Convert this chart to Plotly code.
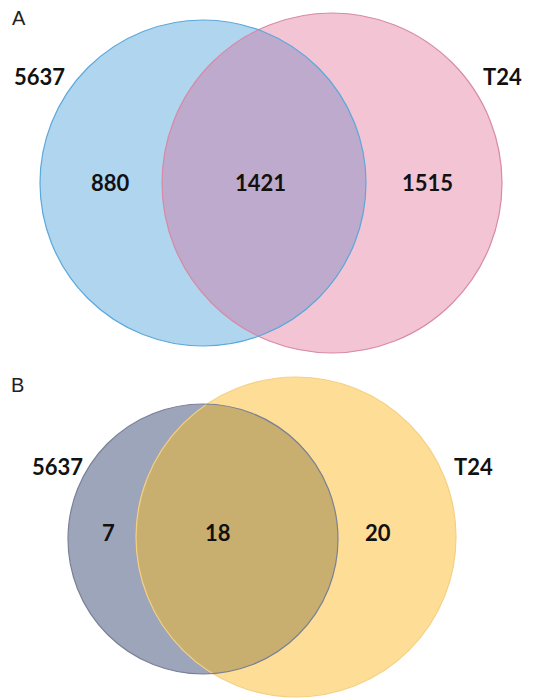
import numpy as np
import plotly.graph_objects as go

# Data
set_names = ["5637", "T24"]
panel_labels = ["A", "B"]
counts_A = [880, 1421, 1515]   # only 5637, both, only T24
counts_B = [7, 18, 20]

W, H = 533, 700

# layout geometry (pixels): (cx, cy, r) for left and right circles
geom = {
    "A": [(203, 183, 163), (332, 183, 170)],
    "B": [(203, 539, 135), (296, 537, 160)],
}
colors = {
    "A": dict(left="#AFD5EF", right="#F2C4D4", both="#BEAACC",
              left_line="#5BA8DB", right_line="#D88AA6"),
    "B": dict(left="#9DA5BB", right="#FEDD96", both="#C8AF70",
              left_line="#7A8196", right_line="#F4D084"),
}

def lens_path(c1, c2, n=120):
    x1, y1, r1 = c1
    x2, y2, r2 = c2
    d = np.hypot(x2 - x1, y2 - y1)
    a = (r1**2 - r2**2 + d**2) / (2 * d)
    h = np.sqrt(r1**2 - a**2)
    ux, uy = (x2 - x1) / d, (y2 - y1) / d
    px, py = x1 + a * ux, y1 + a * uy
    p1 = (px + h * uy, py - h * ux)
    p2 = (px - h * uy, py + h * ux)
    def arc(cx, cy, r, pa, pb, toward):
        t1 = np.arctan2(pa[1] - cy, pa[0] - cx)
        t2 = np.arctan2(pb[1] - cy, pb[0] - cx)
        tm = np.arctan2(toward[1] - cy, toward[0] - cx)
        def norm(t):
            return (t + 2 * np.pi) % (2 * np.pi)
        span = norm(t2 - t1)
        if norm(tm - t1) <= span:
            ts = t1 + np.linspace(0, span, n)
        else:
            ts = t1 - np.linspace(0, 2 * np.pi - span, n)
        return [(cx + r * np.cos(t), cy + r * np.sin(t)) for t in ts]
    pts = arc(x1, y1, r1, p1, p2, (x2, y2)) + arc(x2, y2, r2, p2, p1, (x1, y1))
    return "M " + " L ".join(f"{x:.2f},{y:.2f}" for x, y in pts) + " Z"

shapes = []
for key in ["A", "B"]:
    (c1, c2) = geom[key]
    col = colors[key]
    for c, fc in [(c1, col["left"]), (c2, col["right"])]:
        shapes.append(dict(type="circle", xref="x", yref="y",
                           x0=c[0] - c[2], x1=c[0] + c[2], y0=c[1] - c[2], y1=c[1] + c[2],
                           fillcolor=fc, line=dict(width=0), layer="above"))
    shapes.append(dict(type="path", xref="x", yref="y", path=lens_path(c1, c2),
                       fillcolor=col["both"], line=dict(width=0), layer="above"))
    for c, lc in [(c2, col["right_line"]), (c1, col["left_line"])]:
        shapes.append(dict(type="circle", xref="x", yref="y",
                           x0=c[0] - c[2], x1=c[0] + c[2], y0=c[1] - c[2], y1=c[1] + c[2],
                           fillcolor="rgba(0,0,0,0)", line=dict(width=1.2, color=lc), layer="above"))

annotations = []
bold_font = dict(family="Lato, Open Sans, sans-serif", size=22, color="#111111")
panel_font = dict(family="Liberation Sans, Arial, sans-serif", size=20, color="#222222")

# Panel letters
annotations.append(dict(x=19, y=18, text=panel_labels[0], showarrow=False, font=panel_font))
annotations.append(dict(x=17, y=385, text=panel_labels[1], showarrow=False, font=panel_font))

# Set names
annotations += [
    dict(x=39, y=76, text=f"<b>{set_names[0]}</b>", showarrow=False, font=bold_font),
    dict(x=502, y=76, text=f"<b>{set_names[1]}</b>", showarrow=False, font=bold_font),
    dict(x=57, y=466, text=f"<b>{set_names[0]}</b>", showarrow=False, font=bold_font),
    dict(x=473, y=466, text=f"<b>{set_names[1]}</b>", showarrow=False, font=bold_font),
]
# Counts
for xs, y, vals in [([110, 260, 427], 182, counts_A), ([108, 218, 378], 532, counts_B)]:
    for x, v in zip(xs, vals):
        annotations.append(dict(x=x, y=y, text=f"<b>{v}</b>", showarrow=False, font=bold_font))

fig = go.Figure()
fig.add_trace(go.Scatter(x=[0, W], y=[0, H], mode="markers", marker=dict(opacity=0),
                         hoverinfo="skip", showlegend=False))
fig.update_layout(
    width=W, height=H, margin=dict(l=0, r=0, t=0, b=0),
    paper_bgcolor="white", plot_bgcolor="white",
    xaxis=dict(range=[0, W], visible=False, fixedrange=True),
    yaxis=dict(range=[H, 0], visible=False, fixedrange=True),
    shapes=shapes, annotations=annotations, showlegend=False,
)
fig.write_html("out.html")
